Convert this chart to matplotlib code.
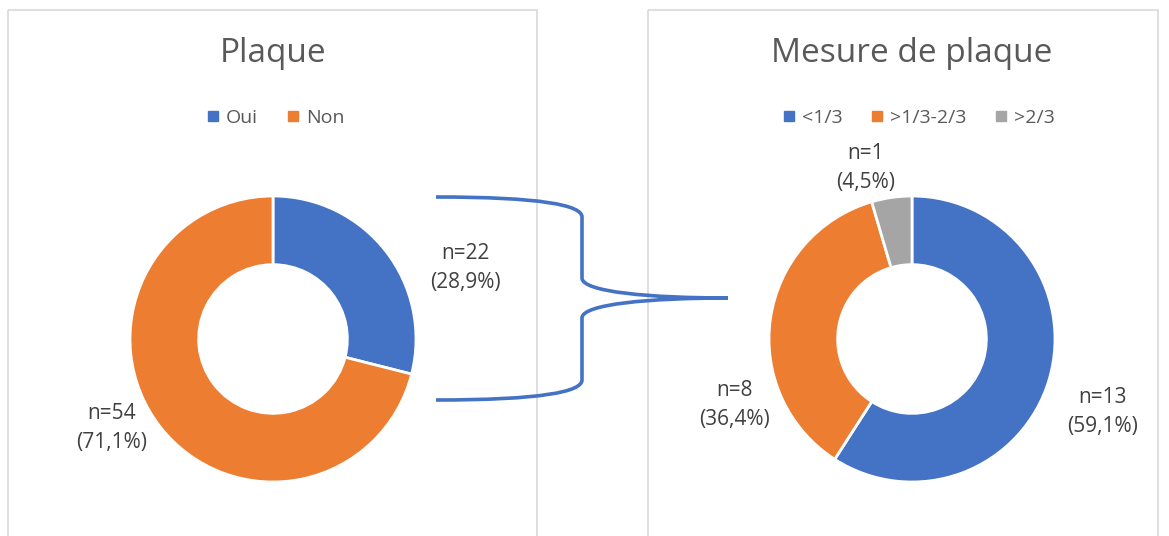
import matplotlib
matplotlib.use("Agg")
import matplotlib.pyplot as plt
from matplotlib.patches import Rectangle, PathPatch
from matplotlib.path import Path
from matplotlib.lines import Line2D

# ---- data ----
left_title = "Plaque"
left_labels = ["Oui", "Non"]
left_values = [22, 54]
left_pct = ["28,9%", "71,1%"]

right_title = "Mesure de plaque"
right_labels = ["<1/3", ">1/3-2/3", ">2/3"]
right_values = [13, 8, 1]
right_pct = ["59,1%", "36,4%", "4,5%"]

left_colors = ["#4472C4", "#ED7D31"]
right_colors = ["#4472C4", "#ED7D31", "#A5A5A5"]

plt.rcParams['font.family'] = ['Open Sans', 'DejaVu Sans']

W, H = 1169, 536
fig = plt.figure(figsize=(W / 100, H / 100), dpi=100)
fig.patch.set_facecolor("white")

# overlay axes in pixel coordinates (y downward)
ov = fig.add_axes([0, 0, 1, 1])
ov.set_xlim(0, W)
ov.set_ylim(H, 0)
ov.axis("off")

# panel borders
for x0, x1 in [(8, 537), (648, 1158)]:
    ov.add_patch(Rectangle((x0, 10), x1 - x0, 600, fill=False,
                           edgecolor="#D9D9D9", lw=1.2))

def donut(cx, cy, r, values, colors):
    ax = fig.add_axes([(cx - r) / W, (H - cy - r) / H, 2 * r / W, 2 * r / H])
    ax.pie(values, colors=colors, startangle=90, counterclock=False,
           radius=1, wedgeprops=dict(width=0.48, edgecolor="white", linewidth=2))
    ax.set_xlim(-1, 1)
    ax.set_ylim(-1, 1)
    ax.set_aspect("equal")
    ax.axis("off")
    return ax

donut(273, 339, 143, left_values, left_colors)
donut(912, 339, 143, right_values, right_colors)

title_kw = dict(fontsize=24, color="#595959", ha="center", va="center")
ov.text(273, 53, left_title, **title_kw)
ov.text(912, 53, right_title, **title_kw)

def legend(cx, labels, colors):
    handles = [Line2D([], [], marker="s", linestyle="none", markersize=7,
                      markerfacecolor=c, markeredgecolor=c) for c in colors]
    fig.legend(handles, labels, loc="center", bbox_to_anchor=(cx / W, 1 - 118 / H),
               ncol=len(labels), frameon=False, fontsize=14, labelcolor="#595959",
               handletextpad=0.15, columnspacing=1.3, handlelength=1.0)

legend(274, left_labels, left_colors)
legend(917, right_labels, right_colors)

lab_kw = dict(fontsize=15, color="#404040", ha="center", va="center", linespacing=1.45)
left_pos = [(465, 268), (112, 428)]
for (x, y), v, p in zip(left_pos, left_values, left_pct):
    ov.text(x, y, f"n={v}\n({p})", **lab_kw)
right_pos = [(1103, 412), (735, 405), (866, 168)]
for (x, y), v, p in zip(right_pos, right_values, right_pct):
    ov.text(x, y, f"n={v}\n({p})", **lab_kw)

# brace connector
verts = [(436, 197), (540, 197), (582, 205), (582, 217),
         (582, 278),
         (582, 292), (650, 298), (728, 298),
         (650, 298), (582, 304), (582, 318),
         (582, 380),
         (582, 392), (540, 400), (436, 400)]
codes = [Path.MOVETO, Path.CURVE4, Path.CURVE4, Path.CURVE4,
         Path.LINETO,
         Path.CURVE4, Path.CURVE4, Path.CURVE4,
         Path.CURVE4, Path.CURVE4, Path.CURVE4,
         Path.LINETO,
         Path.CURVE4, Path.CURVE4, Path.CURVE4]
ov.add_patch(PathPatch(Path(verts, codes), fill=False, edgecolor="#4472C4",
                       lw=2.6, capstyle="butt"))

fig.savefig("out.png", dpi=100, facecolor="white")
